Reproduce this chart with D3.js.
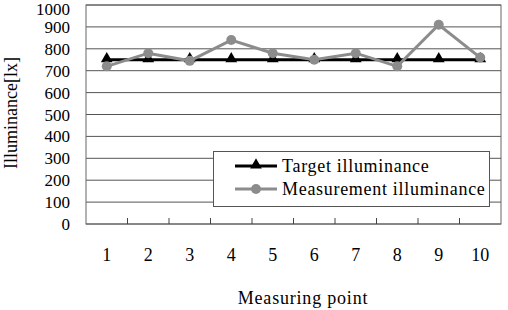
<!DOCTYPE html>
<html>
<head>
<meta charset="utf-8">
<script src="https://cdn.jsdelivr.net/npm/d3@7"></script>
<style>
  body { margin: 0; background: #fff; }
  svg { display: block; }
  text { font-family: "Liberation Serif", "DejaVu Serif", serif; fill: #000; }
</style>
</head>
<body>
<svg></svg>
<script>
// Chart data
const points = ["1", "2", "3", "4", "5", "6", "7", "8", "9", "10"];
const target = [750, 750, 750, 750, 750, 750, 750, 750, 750, 750];
const measured = [720, 780, 745, 840, 780, 750, 780, 720, 910, 760];
const yTicks = [0, 100, 200, 300, 400, 500, 600, 700, 800, 900, 1000];

const width = 508;
const height = 310;
const margin = { top: 5, right: 7, bottom: 86, left: 86 };

const svg = d3.select("svg")
    .attr("width", width)
    .attr("height", height);

const x = d3.scaleBand()
    .domain(points)
    .range([margin.left, width - margin.right]);

const y = d3.scaleLinear()
    .domain([0, 1000])
    .range([height - margin.bottom, margin.top]);

// Gridlines
svg.append("g")
    .selectAll("line")
    .data(yTicks)
    .enter().append("line")
    .attr("x1", margin.left)
    .attr("x2", width - margin.right)
    .attr("y1", d => y(d))
    .attr("y2", d => y(d))
    .attr("stroke", "#555")
    .attr("stroke-width", 1);

// Plot border
svg.append("rect")
    .attr("x", margin.left)
    .attr("y", margin.top)
    .attr("width", width - margin.left - margin.right)
    .attr("height", height - margin.top - margin.bottom)
    .attr("fill", "none")
    .attr("stroke", "#666")
    .attr("stroke-width", 1);

// Y axis labels (top one nudged down so it stays inside the page)
svg.append("g")
    .selectAll("text")
    .data(yTicks)
    .enter().append("text")
    .attr("x", 70)
    .attr("y", d => Math.max(y(d) + 6, 15))
    .attr("text-anchor", "end")
    .attr("font-size", 17)
    .text(d => d);

// X axis: tick marks between categories, pointing inward
const bottom = height - margin.bottom;
svg.append("g")
    .selectAll("line")
    .data(points.slice(1))
    .enter().append("line")
    .attr("x1", d => x(d))
    .attr("x2", d => x(d))
    .attr("y1", bottom)
    .attr("y2", bottom - 6)
    .attr("stroke", "#444")
    .attr("stroke-width", 1);

svg.append("g")
    .selectAll("text")
    .data(points)
    .enter().append("text")
    .attr("x", d => x(d) + x.bandwidth() / 2)
    .attr("y", 261)
    .attr("text-anchor", "middle")
    .attr("font-size", 18)
    .text(d => d);

// Axis titles
svg.append("text")
    .attr("x", 303)
    .attr("y", 304)
    .attr("text-anchor", "middle")
    .attr("font-size", 18)
    .attr("letter-spacing", 0.8)
    .text("Measuring point");

svg.append("text")
    .attr("transform", "translate(17,113) rotate(-90)")
    .attr("text-anchor", "middle")
    .attr("font-size", 18)
    .text("Illuminance[lx]");

const cx = (d, i) => x(points[i]) + x.bandwidth() / 2;
const line = d3.line().x(cx).y(d => y(d));
const tri = d3.symbol().type(d3.symbolTriangle).size(60);

// Target series
svg.append("path")
    .datum(target)
    .attr("d", line)
    .attr("fill", "none")
    .attr("stroke", "#000")
    .attr("stroke-width", 3);

svg.append("g")
    .selectAll("path")
    .data(target)
    .enter().append("path")
    .attr("d", tri)
    .attr("transform", (d, i) => `translate(${cx(d, i)},${y(d) - 1})`)
    .attr("fill", "#000");

// Measurement series
svg.append("path")
    .datum(measured)
    .attr("d", line)
    .attr("fill", "none")
    .attr("stroke", "#8c8c8c")
    .attr("stroke-width", 3);

svg.append("g")
    .selectAll("circle")
    .data(measured)
    .enter().append("circle")
    .attr("cx", cx)
    .attr("cy", d => y(d))
    .attr("r", 5)
    .attr("fill", "#8c8c8c");

// Legend
const legend = svg.append("g");
legend.append("rect")
    .attr("x", 213.5)
    .attr("y", 151.5)
    .attr("width", 276)
    .attr("height", 55)
    .attr("fill", "#fff")
    .attr("stroke", "#555")
    .attr("stroke-width", 1);

const legendItems = [
    { label: "Target illuminance", color: "#000", mark: "tri", yPos: 166 },
    { label: "Measurement illuminance", color: "#8c8c8c", mark: "circle", yPos: 189 }
];

legendItems.forEach(item => {
    legend.append("line")
        .attr("x1", 235)
        .attr("x2", 277)
        .attr("y1", item.yPos)
        .attr("y2", item.yPos)
        .attr("stroke", item.color)
        .attr("stroke-width", 3);
    if (item.mark === "tri") {
        legend.append("path")
            .attr("d", tri)
            .attr("transform", `translate(256,${item.yPos - 1})`)
            .attr("fill", item.color);
    } else {
        legend.append("circle")
            .attr("cx", 256)
            .attr("cy", item.yPos)
            .attr("r", 5)
            .attr("fill", item.color);
    }
    legend.append("text")
        .attr("x", 282)
        .attr("y", item.yPos)
        .attr("dy", "0.35em")
        .attr("font-size", 18)
        .attr("letter-spacing", 0.7)
        .text(item.label);
});
</script>
</body>
</html>
